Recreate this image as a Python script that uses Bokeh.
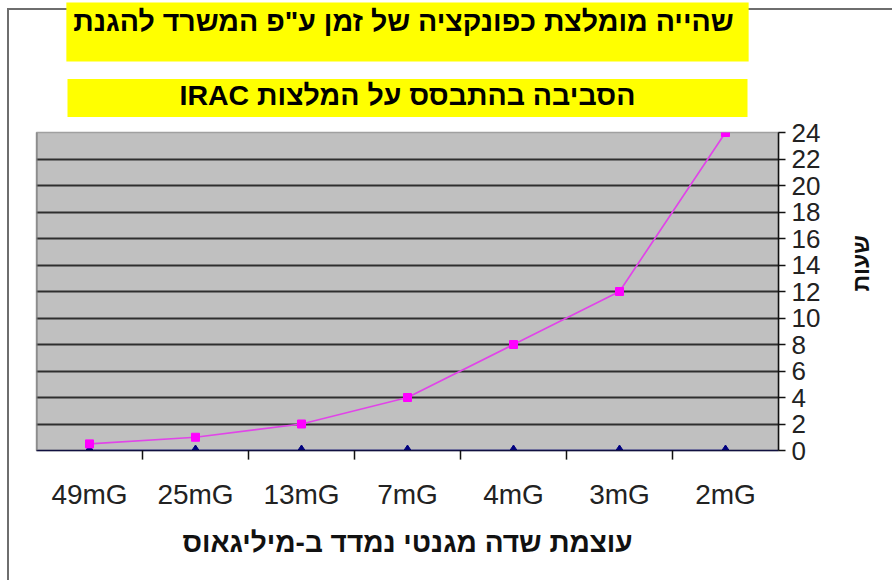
import math
from bokeh.plotting import figure
from bokeh.models import (FactorRange, Range1d, CategoricalAxis, FixedTicker, Span, Title)
from bokeh.embed import file_html
from bokeh.resources import INLINE

# ---- data ----
categories = ["49mG", "25mG", "13mG", "7mG", "4mG", "3mG", "2mG"]
hours = [0.5, 1, 2, 4, 8, 12, 24]
baseline = [0, 0, 0, 0, 0, 0, 0]
y_ticks = [0, 2, 4, 6, 8, 10, 12, 14, 16, 18, 20, 22, 24]
title_line1 = 'שהייה מומלצת כפונקציה של זמן ע"פ  המשרד להגנת'
title_line2 = '\u202bהסביבה בהתבסס על המלצות IRAC\u202c'
x_title = 'עוצמת שדה מגנטי נמדד ב-מיליגאוס'
y_title = 'שעות'

FONT = "Liberation Sans"
W, H = 892, 580

p = figure(width=W, height=H, x_range=FactorRange(*categories), y_range=Range1d(0, 24),
           output_backend="svg", toolbar_location=None,
           x_axis_location=None, y_axis_location="right",
           min_border_left=36, min_border_right=114, min_border_top=129, min_border_bottom=130)

# outer frame lines (left / top) drawn behind the transparent canvas
p.border_fill_alpha = 0
p.styles = {"background": "linear-gradient(#6e6e6e,#6e6e6e) 7px 8px / 2px 100% no-repeat, "
                          "linear-gradient(#6e6e6e,#6e6e6e) 7px 8px / 100% 2px no-repeat, white"}

# helper categorical range whose factor centres fall on the category boundaries
bounds = ["b%d" % i for i in range(len(categories) + 1)]
p.extra_x_ranges = {"bounds": FactorRange(*bounds, range_padding=-0.5,
                                          range_padding_units="absolute")}

p.background_fill_color = "#c0c0c0"
p.outline_line_color = "#a0a0a0"
p.outline_line_width = 1.5

# title box: two stacked titles sharing one yellow box
def style_title(t):
    t.align = "center"
    t.text_font = FONT
    t.text_font_size = "28.5px"
    t.text_font_style = "bold"
    t.text_color = "#000000"
    t.background_fill_color = "#ffff00"

# outer (upper) line
p.title.text = title_line1
style_title(p.title)
p.title.standoff = 0
p.title.padding = dict(left=7, right=7, top=2, bottom=25)

# inner (lower) line, nearest to the plot frame
t2 = Title(text=title_line2)
style_title(t2)
t2.standoff = 31
t2.padding = dict(left=112, right=112, top=0, bottom=6)
p.add_layout(t2, "above")

# grid
p.xgrid.visible = False
p.ygrid.ticker = FixedTicker(ticks=y_ticks[1:-1])
p.ygrid.grid_line_color = "#2e2e2e"
p.ygrid.grid_line_width = 2

# left frame edge darker
p.add_layout(Span(location=0, dimension="height", line_color="#7a7a7a", line_width=2))

# right y axis
yax = p.yaxis[0]
yax.ticker = FixedTicker(ticks=y_ticks)
yax.major_tick_out = 7
yax.major_tick_in = 0
yax.minor_tick_out = 0
yax.minor_tick_in = 0
yax.axis_line_color = "#111111"
yax.axis_line_width = 1.5
yax.major_tick_line_color = "#111111"
yax.major_tick_line_width = 1.5
yax.major_label_standoff = 6
yax.major_label_text_font = FONT
yax.major_label_text_font_size = "26px"
yax.major_label_text_color = "#222222"
yax.axis_label = y_title
yax.axis_label_text_font = FONT
yax.axis_label_text_font_size = "23px"
yax.axis_label_text_font_style = "bold"
yax.axis_label_text_color = "#111111"
yax.axis_label_standoff = 38
yax.axis_label_orientation = math.pi / 2

# x axis: boundary ticks
tick_axis = CategoricalAxis(x_range_name="bounds",
                            major_tick_out=9, major_tick_in=0,
                            major_label_overrides={b: "" for b in bounds},
                            major_label_text_font_size="1px", major_label_standoff=0,
                            axis_line_color="#101040", axis_line_width=1.5,
                            major_tick_line_color="#111111", major_tick_line_width=1.5)
p.add_layout(tick_axis, "below")

label_axis = CategoricalAxis(axis_line_color=None, major_tick_line_color=None,
                             major_tick_out=0, major_tick_in=0,
                             major_label_standoff=15,
                             major_label_text_font=FONT, major_label_text_font_size="28px",
                             major_label_text_color="#222222",
                             axis_label=x_title, axis_label_text_font=FONT,
                             axis_label_text_font_size="28px", axis_label_text_font_style="bold",
                             axis_label_text_color="#111111", axis_label_standoff=14)
p.add_layout(label_axis, "below")

# series
p.line(categories, baseline, line_color="#1a1acc", line_width=1.5)
p.scatter(categories, baseline, marker="diamond", size=11, color="#000080")
p.line(categories, hours, line_color="#e045e8", line_width=1.7)
p.scatter(categories, hours, marker="square", size=8, color="#ff00ff")

open("out.html", "w").write(file_html(p, INLINE))
